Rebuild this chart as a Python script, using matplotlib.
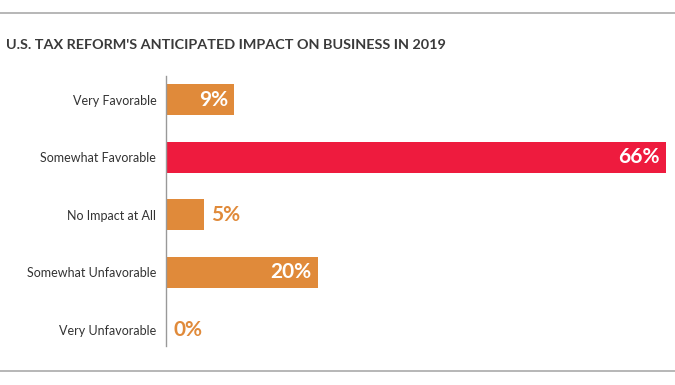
import matplotlib
matplotlib.use("Agg")
import matplotlib.pyplot as plt
from matplotlib.lines import Line2D

categories = ["Very Favorable", "Somewhat Favorable", "No Impact at All",
              "Somewhat Unfavorable", "Very Unfavorable"]
values = [9, 66, 5, 20, 0]
labels = ["9%", "66%", "5%", "20%", "0%"]
highlight = [False, True, False, False, False]
title = "U.S. TAX REFORM'S ANTICIPATED IMPACT ON BUSINESS IN 2019"

ORANGE = "#E08A3A"
RED = "#EE1B3E"
W, H = 675, 385
fig = plt.figure(figsize=(W / 100, H / 100), dpi=100)
fig.patch.set_facecolor("white")

ax = fig.add_axes([166 / W, 1 - 346 / H, 500 / W, (346 - 76) / H])
ys = list(range(len(categories)))
colors = [RED if h else ORANGE for h in highlight]
ax.barh(ys, values, height=0.54, color=colors)
ax.set_xlim(0, 66)
ax.set_ylim(4.28, -0.41)
for s in ["top", "right", "bottom"]:
    ax.spines[s].set_visible(False)
ax.spines["left"].set_color("#999999")
ax.spines["left"].set_linewidth(1.0)
ax.set_xticks([])
ax.set_yticks(ys)
ax.set_yticklabels(categories, fontsize=9.0, color="#333333", family="Lato")
ax.tick_params(axis="y", length=0, pad=7)

for y, v, lab in zip(ys, values, labels):
    if v >= 9:
        ax.annotate(lab, (v, y), xytext=(-4.5, 0), textcoords="offset points",
                    ha="right", va="center", color="white", fontsize=15,
                    fontweight="bold", family="Lato")
    else:
        ax.annotate(lab, (v, y), xytext=(5.5, 0), textcoords="offset points",
                    ha="left", va="center", color=ORANGE, fontsize=15,
                    fontweight="bold", family="Lato")

fig.text(6 / W, 1 - 45 / H, title, ha="left", va="center", fontsize=10.4,
         fontweight="bold", color="#3a3a3a", family="Lato")

fig.add_artist(Line2D([0, 1], [1 - 13 / H, 1 - 13 / H], transform=fig.transFigure,
                      color="#aaaaaa", linewidth=1.2))
fig.add_artist(Line2D([0, 1], [1 - 371 / H, 1 - 371 / H], transform=fig.transFigure,
                      color="#aaaaaa", linewidth=1.2))

fig.savefig("out.png", dpi=100, facecolor="white")
